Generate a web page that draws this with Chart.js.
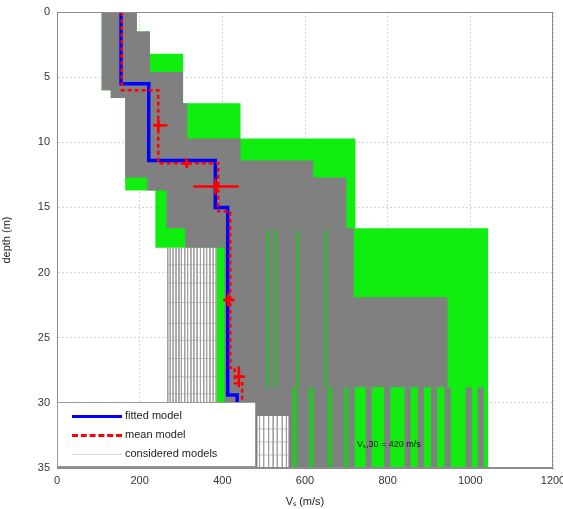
<!DOCTYPE html>
<html>
<head>
<meta charset="utf-8">
<script src="https://cdn.jsdelivr.net/npm/chart.js@4.4.1/dist/chart.umd.min.js"></script>
<style>
  body { margin: 0; background: #fff; font-family: "Liberation Sans", Arial, sans-serif; }
  #wrap { position: relative; width: 563px; height: 509px; }
  #legend { position: absolute; left: 57px; top: 402px; width: 199px; height: 65px; background: #fff;
            border: 1px solid #9a9a9a; box-sizing: border-box; font-size: 11px; color: #222; }
  .row { position: absolute; left: 14px; height: 14px; line-height: 14px; white-space: nowrap; }
  .s { display: inline-block; width: 50px; vertical-align: middle; margin-right: 3px; }
  #note { position: absolute; left: 357px; top: 437px; font-size: 9px; color: #111; }
</style>
</head>
<body>
<div id="wrap">
  <canvas id="c"></canvas>
  <div id="legend">
    <div class="row" style="top:5px"><span class="s" style="border-top:3px solid #0000ff"></span>fitted model</div>
    <div class="row" style="top:24px"><span class="s" style="border-top:3px dashed #ff0000"></span>mean model</div>
    <div class="row" style="top:43px"><span class="s" style="border-top:1px solid #d8d8d8"></span>considered models</div>
  </div>
  <div id="note">V&#8347;,30 = 420 m/s</div>
</div>
<script>
// depth (m) of layer tops and Vs (m/s) of each layer
const fittedTop = [0, 5.5, 11.4, 15.0, 29.4];
const fittedVs  = [155, 222, 383, 413, 436];

const meanTop = [0, 6.0, 11.6, 15.3, 27.3, 28.5];
const meanVs  = [157, 245, 390, 419, 430, 448];

// mean model markers with error bars
const markerDepth = [8.7, 11.6, 13.4, 22.1, 28.0];
const markerVs    = [245, 314, 383, 414, 440];
const markerVsLo  = [233, 305, 330, 404, 428];
const markerVsHi  = [267, 326, 440, 430, 455];
const markerDErr  = [0.4, 0.3, 0.6, 0.5, 0.8];

// envelope of all models (green)
const greenRightTop = [0, 1.5, 3.2, 7.0, 9.7, 16.6];
const greenRightVs  = [193, 225, 305, 444, 722, 1043];
const greenLeftTop  = [0, 6.0, 6.6, 13.7, 18.1];
const greenLeftVs   = [108, 130, 165, 238, 387];

// envelope of the better models (gray)
const grayRightTop = [0, 1.5, 4.6, 7.0, 9.7, 11.4, 12.7, 16.6, 21.9, 28.8];
const grayRightVs  = [193, 225, 305, 315, 444, 620, 700, 718, 945, 720];
const grayLeftTop  = [0, 6.0, 6.6, 12.7, 13.7, 16.6, 18.1];
const grayLeftVs   = [108, 130, 165, 218, 265, 310, 405];

// single considered models
const hatchVs    = [268, 274, 281, 288, 295, 301, 309, 316, 324, 331, 339, 347, 355, 362, 370, 378, 385];
const hatchDepth = [19.4, 20.8, 22.3, 23.9, 25.2, 26.6, 28.0, 29.3, 30.7, 32.2, 33.6];
const boxVs      = [490, 500, 512, 523, 533, 545, 555];
const boxDepth   = [32.0, 33.0, 34.0];
const greenStripeVs = [510, 528, 582, 650];
const lowGreenVs    = [575, 615, 660, 700];
const grayStripeVs  = [754, 799, 848, 880, 912, 945, 996, 1025];

const GREEN = '#10ee10', GRAY = '#808080', MAXD = 35;

function steps(tops, vs, bottom) {
  const pts = [];
  tops.forEach((t, i) => {
    pts.push({ x: vs[i], y: t });
    pts.push({ x: vs[i], y: i + 1 < tops.length ? tops[i + 1] : bottom });
  });
  return pts;
}
function vLines(vs, d0, d1) {
  const pts = [];
  vs.forEach(v => pts.push({ x: v, y: d0 }, { x: v, y: d1 }, { x: null, y: null }));
  return pts;
}
function hLines(ds, v0, v1) {
  const pts = [];
  ds.forEach(d => pts.push({ x: v0, y: d }, { x: v1, y: d }, { x: null, y: null }));
  return pts;
}
const edge = (data, order) => ({ data, borderWidth: 0, borderColor: 'transparent', fill: false, order });
const area = (data, color, order) => ({ data, borderWidth: 0, borderColor: 'transparent', backgroundColor: color, fill: '-1', order });
const lines = (data, color, width, order) => ({ data, borderColor: color, borderWidth: width, fill: false, order });

const errPts = [];
markerDepth.forEach((d, i) => {
  errPts.push({ x: markerVsLo[i], y: d }, { x: markerVsHi[i], y: d }, { x: null, y: null });
  errPts.push({ x: markerVs[i], y: d - markerDErr[i] }, { x: markerVs[i], y: d + markerDErr[i] }, { x: null, y: null });
});

const datasets = [
  edge(steps(greenRightTop, greenRightVs, MAXD), 20),
  area(steps(greenLeftTop, greenLeftVs, MAXD), GREEN, 20),
  edge(steps(grayRightTop, grayRightVs, MAXD), 19),
  area(steps(grayLeftTop, grayLeftVs, MAXD), GRAY, 19),
  lines(vLines(greenStripeVs, 16.8, 28.8), 'rgba(0,220,0,0.55)', 3, 18),
  lines(vLines(lowGreenVs, 28.8, 35), 'rgba(0,230,0,0.6)', 5, 18),
  lines(vLines(grayStripeVs, 28.8, 35), GRAY, 6, 17),
  edge(steps([31.0], [485], MAXD), 16),
  area(steps([31.0], [560], MAXD), '#ffffff', 16),
  lines(vLines(hatchVs, 18.1, 35), '#a0a0a0', 1, 15),
  lines(hLines(hatchDepth, 266, 387), '#c4c4c4', 1, 15),
  lines(vLines(boxVs, 31.0, 35), '#a0a0a0', 1, 15),
  lines(hLines(boxDepth, 485, 560), '#c4c4c4', 1, 15),
  lines(steps(fittedTop, fittedVs, MAXD), '#0000ff', 3.5, 3),
  Object.assign(lines(steps(meanTop, meanVs, MAXD), '#ff0000', 2.5, 2), { borderDash: [4, 3] }),
  lines(errPts, '#ff0000', 2.5, 1),
  { data: markerDepth.map((d, i) => ({ x: markerVs[i], y: d })), showLine: false,
    pointStyle: 'cross', pointRadius: 5, pointBorderWidth: 2.5, pointBorderColor: '#ff0000', order: 0 }
];

const framePlugin = {
  id: 'frame',
  afterDatasetsDraw(chart) {
    const { ctx, chartArea: a } = chart;
    ctx.save();
    ctx.strokeStyle = '#8c8c8c';
    ctx.lineWidth = 1;
    ctx.strokeRect(a.left + 0.5, a.top + 0.5, a.width - 1, a.height - 1);
    ctx.restore();
  }
};

const tickFont = { family: '"Liberation Sans", Arial, sans-serif', size: 11 };

new Chart(document.getElementById('c'), {
  type: 'line',
  data: { datasets },
  plugins: [framePlugin],
  options: {
    indexAxis: 'y',
    responsive: true,
    maintainAspectRatio: false,
    animation: false,
    events: [],
    layout: { padding: { top: 12, right: 10, left: 0, bottom: 0 } },
    elements: { point: { radius: 0 }, line: { tension: 0 } },
    plugins: { legend: { display: false }, tooltip: { enabled: false } },
    scales: {
      x: {
        type: 'linear', position: 'bottom', min: 0, max: 1200,
        ticks: { stepSize: 200, color: '#333', font: tickFont, padding: 6, callback: v => String(v) },
        grid: { color: '#d6d6d6', drawTicks: false },
        border: { color: '#8c8c8c', dash: [2, 2] },
        title: { display: true, text: 'V\u209B (m/s)', color: '#222', font: tickFont, padding: { top: 2, bottom: 0 } },
        afterFit(s) { s.height = 41; s.paddingLeft = 0; s.paddingRight = 0; }
      },
      y: {
        type: 'linear', reverse: true, min: 0, max: 35,
        ticks: { stepSize: 5, color: '#333', font: tickFont, padding: 7, callback: v => String(v) },
        grid: { color: '#d6d6d6', drawTicks: false },
        border: { color: '#8c8c8c', dash: [2, 2] },
        title: { display: true, text: 'depth (m)', color: '#222', font: tickFont, padding: { top: 0, bottom: 2 } },
        afterFit(s) { s.width = 57; s.paddingTop = 0; s.paddingBottom = 0; }
      }
    }
  }
});
</script>
</body>
</html>
